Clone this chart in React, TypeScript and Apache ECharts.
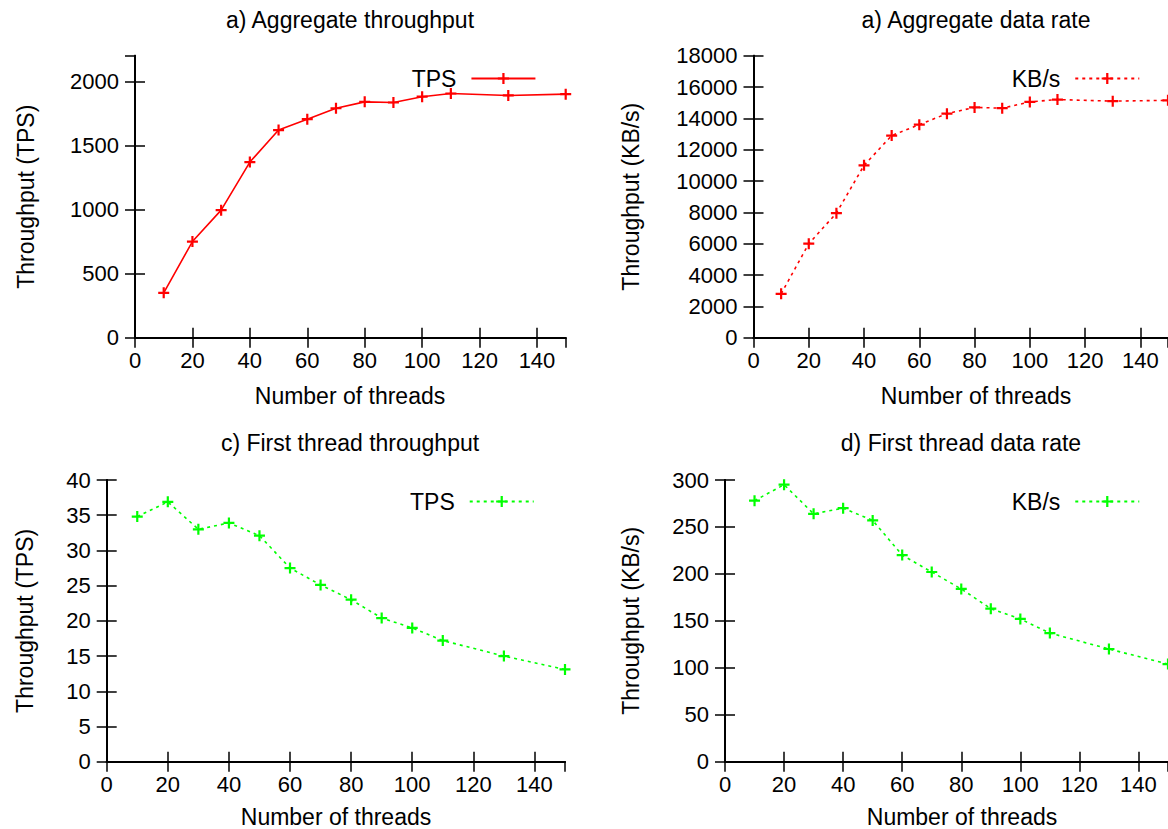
import React, { useEffect, useRef } from "react";
import * as echarts from "echarts";

const threads = [10, 20, 30, 40, 50, 60, 70, 80, 90, 100, 110, 130, 150];
const aggTps = [350, 750, 995, 1370, 1620, 1705, 1790, 1840, 1835, 1880, 1905, 1890, 1900];
const aggKbs = [2800, 6000, 7950, 11000, 12900, 13600, 14300, 14700, 14650, 15050, 15200, 15100, 15150];
const firstTps = [34.8, 36.9, 33.0, 33.9, 32.1, 27.5, 25.1, 23.0, 20.4, 19.0, 17.2, 15.0, 13.1];
const firstKbs = [278, 295, 264, 270, 257, 220, 202, 184, 163, 152, 137, 120, 104];

const titles = [
  "a) Aggregate throughput",
  "a) Aggregate data rate",
  "c) First thread throughput",
  "d) First thread data rate",
];
const yNames = ["Throughput (TPS)", "Throughput (KB/s)", "Throughput (TPS)", "Throughput (KB/s)"];
const xName = "Number of threads";
const legendNames = ["TPS", "KB/s", "TPS", "KB/s"];
const yMax = [2200, 18000, 40, 300];
const yInterval = [500, 2000, 5, 50];
const xMax = 150;
const xInterval = 20;

const FONT = "Liberation Sans";

export default function App() {
  const ref = useRef<HTMLDivElement>(null);
  useEffect(() => {
    if (!ref.current) return;
    const chart = echarts.init(ref.current, undefined, { renderer: "svg" });

    const grids = [
      { left: 135, top: 55.7, width: 430.7, height: 282 },
      { left: 753.5, top: 55.7, width: 416.6, height: 282 },
      { left: 106.7, top: 480, width: 458.3, height: 281.7 },
      { left: 725, top: 480, width: 444.75, height: 281.7 },
    ];
    const datasets = [aggTps, aggKbs, firstTps, firstKbs];
    const colors = ["#ff0000", "#ff0000", "#00ff00", "#00ff00"];
    const dashed = [false, true, true, true];
    const yNameGap = [98, 111, 70, 83];
    const titlePos = [
      [350, 20],
      [976, 20],
      [350, 443],
      [961, 443],
    ];
    const xNamePos = [
      [350, 396],
      [976, 396],
      [336, 817],
      [962, 817],
    ];
    const legendPos = [
      [411.7, 67],
      [1011.7, 67],
      [410, 490],
      [1011.7, 490],
    ];

    const axisLine = { show: true, lineStyle: { color: "#000", width: 2 } };
    const axisTick = { show: true, inside: true, length: 10, lineStyle: { color: "#000", width: 1.5 } };
    const labelStyle = { color: "#000", fontSize: 22, fontFamily: FONT };
    const plain = (v: number) => String(v);

    const xAxes: any[] = [];
    const yAxes: any[] = [];
    for (let i = 0; i < 4; i++) {
      xAxes.push({
        type: "value",
        gridIndex: i,
        position: "bottom",
        min: 0,
        max: xMax,
        interval: xInterval,
        axisLine,
        axisTick,
        splitLine: { show: false },
        axisLabel: { ...labelStyle, margin: 12, showMaxLabel: false, formatter: plain },
      });
      yAxes.push({
        type: "value",
        gridIndex: i,
        position: "left",
        min: 0,
        max: yMax[i],
        interval: yInterval[i],
        axisLine,
        axisTick,
        splitLine: { show: false },
        axisLabel: {
          ...labelStyle,
          margin: 16,
          showMaxLabel: yMax[i] % yInterval[i] === 0,
          formatter: plain,
        },
        name: yNames[i],
        nameLocation: "middle",
        nameGap: yNameGap[i],
        nameTextStyle: { color: "#000", fontSize: 23, fontFamily: FONT },
      });
    }
    for (let i = 0; i < 4; i++) {
      xAxes.push({
        type: "value",
        gridIndex: i,
        position: "top",
        min: 0,
        max: xMax,
        interval: xInterval,
        axisLine,
        axisTick,
        splitLine: { show: false },
        axisLabel: { show: false },
      });
      yAxes.push({
        type: "value",
        gridIndex: i,
        position: "right",
        min: 0,
        max: yMax[i],
        interval: yInterval[i],
        axisLine,
        axisTick,
        splitLine: { show: false },
        axisLabel: { show: false },
      });
    }

    const plus = "path://M4,0H6V4H10V6H6V10H4V6H0V4H4Z";
    const series = datasets.map((vals, i) => ({
      type: "line",
      name: "s" + i,
      xAxisIndex: i,
      yAxisIndex: i,
      data: threads.map((t, k) => [t, vals[k]]),
      symbol: plus,
      symbolSize: 11,
      showSymbol: true,
      itemStyle: { color: colors[i] },
      lineStyle: { color: colors[i], width: 1.6, type: dashed[i] ? [3, 4] : "solid" },
      z: 3,
    }));

    const legends = legendPos.map((p, i) => ({
      data: ["s" + i],
      left: p[0],
      top: p[1],
      orient: "horizontal",
      align: "right",
      padding: 0,
      itemWidth: 64,
      itemHeight: 14,
      selectedMode: false,
      formatter: () => legendNames[i],
      textStyle: { color: "#000", fontSize: 23, fontFamily: FONT, padding: [0, 10, 0, 0] },
    }));

    const graphic: any[] = [];
    const addText = (x: number, y: number, text: string) =>
      graphic.push({
        type: "text",
        x,
        y,
        style: {
          text,
          fill: "#000",
          font: `23px "${FONT}"`,
          textAlign: "center",
          textVerticalAlign: "middle",
          align: "center",
          verticalAlign: "middle",
        },
      });
    titlePos.forEach((p, i) => addText(p[0], p[1], titles[i]));
    xNamePos.forEach((p) => addText(p[0], p[1], xName));

    chart.setOption({
      animation: false,
      backgroundColor: "#fff",
      textStyle: { fontFamily: FONT },
      grid: grids,
      xAxis: xAxes,
      yAxis: yAxes,
      series,
      legend: legends,
      graphic,
    });
    return () => chart.dispose();
  }, []);
  return (
    <div
      ref={ref}
      style={{ position: "fixed", left: 0, top: 0, width: 1168, height: 829, background: "#fff" }}
    />
  );
}
